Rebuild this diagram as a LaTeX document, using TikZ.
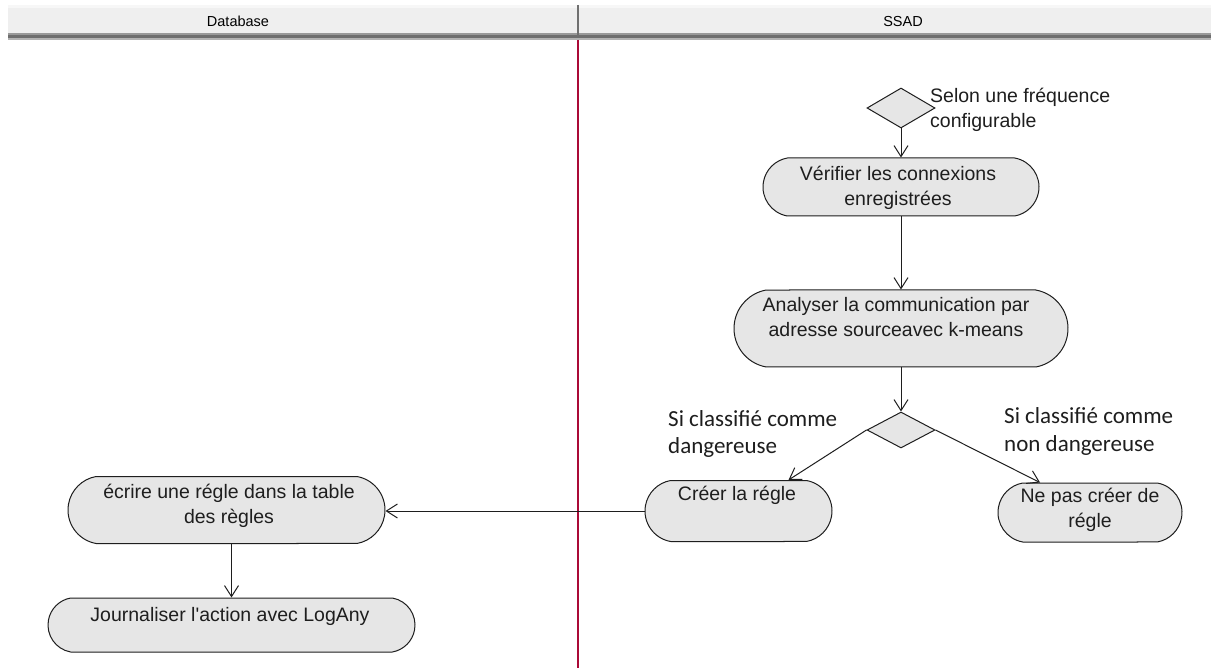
\documentclass[tikz,border=0pt]{standalone}
\usepackage{fontspec}
\setmainfont{Liberation Sans}
\newfontfamily\notefont{Carlito}
\usetikzlibrary{shapes.misc,shapes.geometric,arrows.meta}

\definecolor{hdrfill}{RGB}{239,239,239}
\definecolor{hdrtop}{RGB}{247,247,247}
\definecolor{hdrline}{RGB}{112,112,112}
\definecolor{lanered}{RGB}{170,10,55}
\definecolor{ink}{RGB}{30,30,30}
\definecolor{actfill}{RGB}{230,230,230}

\begin{document}
\begin{tikzpicture}[x=1pt,y=-1pt,
  act/.style={rounded rectangle, rounded rectangle arc length=160,
    draw=ink, fill=actfill, line width=1pt, inner sep=0pt},
  choice/.style={diamond, draw=ink, fill=actfill, line width=1pt,
    inner sep=0pt, minimum width=68pt},
  flow/.style={draw=ink, line width=1pt,
    -{Straight Barb[length=11pt,width=14pt,line width=1pt]}},
  lbl/.style={font=\fontsize{19.5}{25}\selectfont, inner sep=0pt, anchor=base, text=ink},
  note/.style={font=\notefont\fontsize{23}{28}\selectfont, inner sep=0pt,
    anchor=base west, text=ink},
  lanetitle/.style={font=\fontsize{14.5}{17}\selectfont, inner sep=0pt, anchor=base}]
\useasboundingbox (0,0) rectangle (1211,668);
\fill[white] (0,0) rectangle (1211,668);

% swimlane header
\fill[hdrtop] (8,5) rectangle (1211,8);
\fill[hdrfill] (8,8) rectangle (1211,33);
\fill[black!40] (8,33) rectangle (1211,35);
\fill[black!57] (8,35) rectangle (1211,38);
\fill[black!30] (8,38) rectangle (1211,40);
\draw[hdrline, line width=2pt] (578,5) -- (578,36);
\node[lanetitle] (laneDb) at (238,27) {Database};
\node[lanetitle] (laneSsad) at (903,27) {SSAD};

% lane separator
\draw[lanered, line width=1.3pt] (578,40) -- (578,668);

% activities and decisions
\node[choice, minimum height=40pt] (d1) at (901,108) {};
\node[act, minimum width=276pt, minimum height=58pt] (verif) at (901,187) {};
\node[act, minimum width=334pt, minimum height=77pt] (analyse) at (901,328.5) {};
\node[choice, minimum height=36pt] (d2) at (901,430) {};
\node[act, minimum width=187pt, minimum height=61pt] (creer) at (738.5,511) {};
\node[act, minimum width=184pt, minimum height=59pt] (nepas) at (1090,512.5) {};
\node[act, minimum width=317pt, minimum height=67pt] (ecrire) at (226.5,510) {};
\node[act, minimum width=367pt, minimum height=54pt] (journ) at (231.5,625) {};

% texts inside the activities
\node[lbl] (verifT) at (898,181)
  {\begin{tabular}[t]{@{}c@{}}Vérifier les connexions\\enregistrées\end{tabular}};
\node[lbl] (analyseT) at (896,312)
  {\begin{tabular}[t]{@{}c@{}}Analyser la communication par\\adresse sourceavec k-means\end{tabular}};
\node[lbl] (creerT) at (737,500) {Créer la régle};
\node[lbl] (nepasT) at (1090,502)
  {\begin{tabular}[t]{@{}c@{}}Ne pas créer de\\régle\end{tabular}};
\node[lbl] (ecrireT) at (229,498)
  {\begin{tabular}[t]{@{}c@{}}écrire une régle dans la table\\des règles\end{tabular}};
\node[lbl] (journT) at (230,621) {Journaliser l\textquotesingle action avec LogAny};

% guard texts
\node[lbl, anchor=base west] (freq) at (930,103)
  {\begin{tabular}[t]{@{}l@{}}Selon une fréquence\\configurable\end{tabular}};
\node[note] (dang) at (668,426)
  {\begin{tabular}[t]{@{}l@{}}Si classifié comme\\dangereuse\end{tabular}};
\node[note] (nondang) at (1004,424)
  {\begin{tabular}[t]{@{}l@{}}Si classifié comme\\non dangereuse\end{tabular}};

% control flow
\draw[flow] (d1.south) -- (verif.north);
\draw[flow] (verif.south) -- (analyse.north);
\draw[flow] (analyse.south) -- (d2.north);
\draw[flow] (d2.west) -- ([xshift=50pt]creer.north);
\draw[flow] (d2.east) -- ([xshift=-50pt]nepas.north);
\draw[flow] (creer.west) -- (creer.west -| ecrire.east);
\draw[flow] ([xshift=5pt]ecrire.south) -- (journ.north);
\end{tikzpicture}
\end{document}
